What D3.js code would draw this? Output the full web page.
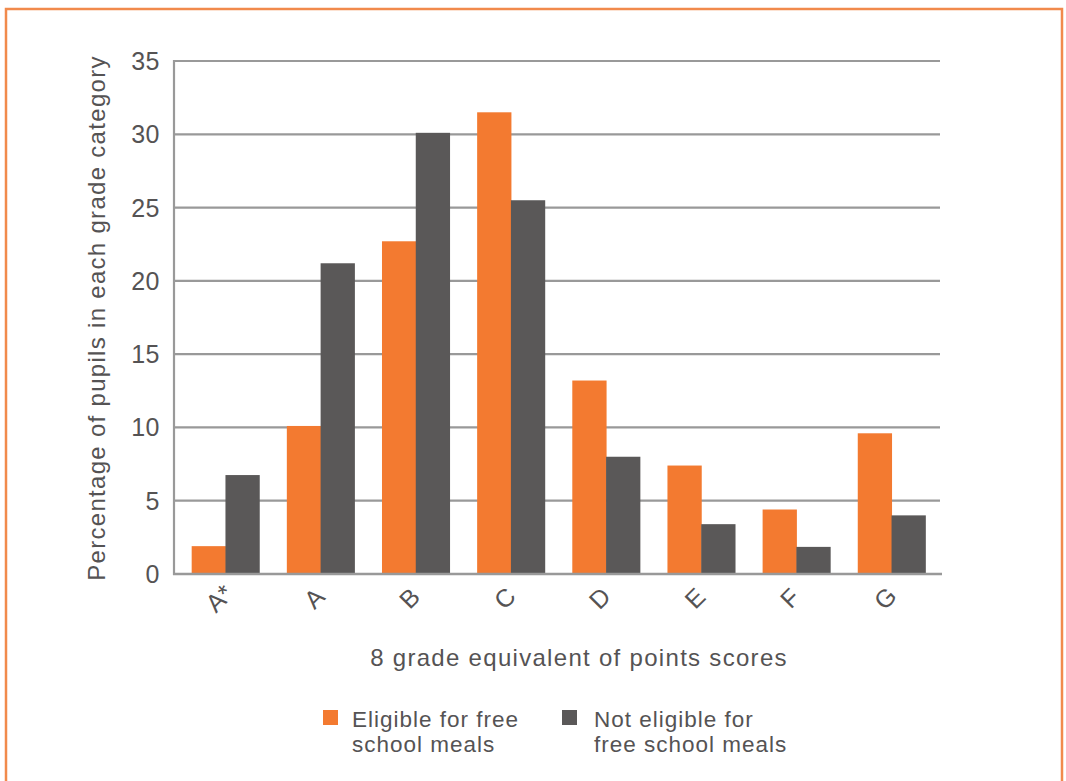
<!DOCTYPE html>
<html>
<head>
<meta charset="utf-8">
<script src="https://cdn.jsdelivr.net/npm/d3@7"></script>
<style>
  html, body { margin: 0; padding: 0; background: #fff; }
  svg text { font-family: "Liberation Sans", Arial, Helvetica, sans-serif; fill: #555354; }
</style>
</head>
<body>
<svg id="chart" width="1066" height="781"></svg>
<script>
// Grade categories and percentage of pupils per group
const grades = ["A*", "A", "B", "C", "D", "E", "F", "G"];
const eligible = [1.9, 10.1, 22.7, 31.5, 13.2, 7.4, 4.4, 9.6];
const notEligible = [6.75, 21.2, 30.1, 25.5, 8.0, 3.4, 1.85, 4.0];
const seriesNames = ["Eligible for free school meals", "Not eligible for free school meals"];
const yTicks = [0, 5, 10, 15, 20, 25, 30, 35];

const colors = ["#F37A30", "#5A5858"];
const svg = d3.select("#chart");

// frame around the figure
svg.append("path")
  .attr("d", "M6,790 L6,9 L1062,9 L1062,790")
  .attr("fill", "none")
  .attr("stroke", "#F18A4C")
  .attr("stroke-width", 2.5);

const m = { left: 174, right: 940, top: 61, bottom: 574 };

const x = d3.scaleBand().domain(grades).range([m.left, m.right])
  .paddingInner(0.29).paddingOuter(0.17);
const xs = d3.scaleBand().domain([0, 1]).range([0, x.bandwidth()]);
const y = d3.scaleLinear().domain([0, 35]).range([m.bottom, m.top]);

// horizontal gridlines
svg.append("g").selectAll("line").data(yTicks.filter(d => d > 0)).join("line")
  .attr("x1", m.left).attr("x2", m.right)
  .attr("y1", d => y(d)).attr("y2", d => y(d))
  .attr("stroke", "#999999").attr("stroke-width", 2.2);

// bars
const rows = grades.map((g, i) => ({ g, v: [eligible[i], notEligible[i]] }));
svg.append("g").selectAll("g").data(rows).join("g")
  .attr("transform", d => `translate(${x(d.g) + 1.5},0)`)
  .selectAll("rect").data(d => d.v.map((v, k) => ({ v, k }))).join("rect")
  .attr("x", d => xs(d.k))
  .attr("width", xs.bandwidth() + 0.5)
  .attr("y", d => y(d.v))
  .attr("height", d => y(0) - y(d.v))
  .attr("fill", d => colors[d.k]);

// axis lines
svg.append("line").attr("x1", m.left).attr("x2", m.left)
  .attr("y1", m.top - 1).attr("y2", m.bottom + 1)
  .attr("stroke", "#999999").attr("stroke-width", 2.2);
svg.append("line").attr("x1", m.left - 1).attr("x2", m.right + 2)
  .attr("y1", m.bottom).attr("y2", m.bottom)
  .attr("stroke", "#999999").attr("stroke-width", 2.6);

// y tick labels
svg.append("g").selectAll("text").data(yTicks).join("text")
  .attr("x", 160).attr("y", d => y(d))
  .attr("dy", "0.36em")
  .attr("text-anchor", "end")
  .attr("font-size", 25)
  .attr("letter-spacing", 0.5)
  .text(d => d);

// x tick labels, rotated
svg.append("g").selectAll("text").data(grades).join("text")
  .attr("transform", d => `translate(${x(d) + x.bandwidth() / 2 - 5},598) rotate(-45)`)
  .attr("text-anchor", "middle")
  .attr("dy", "0.36em")
  .attr("font-size", 25)
  .text(d => d);

// axis titles
svg.append("text")
  .attr("transform", `translate(96,318) rotate(-90)`)
  .attr("text-anchor", "middle")
  .attr("dy", "0.36em")
  .attr("font-size", 24)
  .attr("letter-spacing", 1.3)
  .text("Percentage of pupils in each grade category");

svg.append("text")
  .attr("x", 579).attr("y", 657)
  .attr("text-anchor", "middle")
  .attr("dy", "0.36em")
  .attr("font-size", 24)
  .attr("letter-spacing", 1.3)
  .text("8 grade equivalent of points scores");

// legend
const legendLines = [["Eligible for free", "school meals"], ["Not eligible for", "free school meals"]];
const legendX = [323, 562];
const lg = svg.append("g").selectAll("g").data(seriesNames).join("g")
  .attr("transform", (d, i) => `translate(${legendX[i]},710)`);
lg.append("rect").attr("width", 15).attr("height", 15)
  .attr("fill", (d, i) => colors[i]);
lg.append("text")
  .attr("x", (d, i) => i === 0 ? 29 : 32)
  .attr("font-size", 22.5)
  .attr("letter-spacing", 1)
  .selectAll("tspan").data((d, i) => legendLines[i]).join("tspan")
  .attr("x", function () { return this.parentNode.getAttribute("x"); })
  .attr("y", (d, j) => 17 + j * 25)
  .text(d => d);
</script>
</body>
</html>
